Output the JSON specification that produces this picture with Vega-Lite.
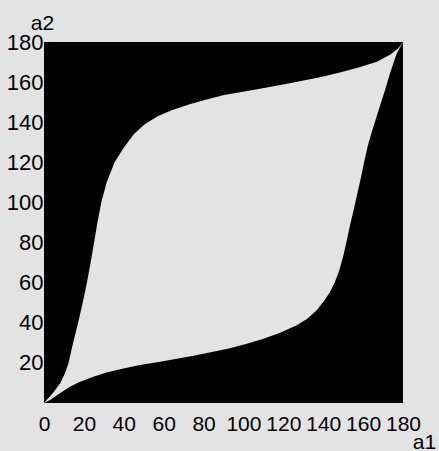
{
  "$schema": "https://vega.github.io/schema/vega-lite/v6.json",
  "autosize": "none",
  "width": 359,
  "height": 361,
  "padding": {"left": 44, "top": 42, "right": 36, "bottom": 48},
  "background": "#e3e3e3",
  "config": {
    "view": {"fill": "#e3e3e3", "stroke": null},
    "axis": {
      "labelFont": "Liberation Sans",
      "labelFontSize": 22,
      "labelColor": "#000000",
      "titleFont": "Liberation Sans",
      "titleFontSize": 21,
      "titleFontWeight": "normal",
      "titleColor": "#000000",
      "ticks": false,
      "domain": false,
      "grid": false,
      "labelOverlap": false
    }
  },
  "datasets": {
    "upper": [
      {"a1": 0, "a2": 0},
      {"a1": 4.5, "a2": 5},
      {"a1": 8.2, "a2": 10},
      {"a1": 10.6, "a2": 15},
      {"a1": 12.3, "a2": 20},
      {"a1": 14.6, "a2": 30},
      {"a1": 17.1, "a2": 40},
      {"a1": 19.4, "a2": 50},
      {"a1": 21.5, "a2": 60},
      {"a1": 23.4, "a2": 70},
      {"a1": 25.1, "a2": 80},
      {"a1": 26.8, "a2": 90},
      {"a1": 28.7, "a2": 100},
      {"a1": 31.4, "a2": 110},
      {"a1": 35.4, "a2": 120},
      {"a1": 39.8, "a2": 127},
      {"a1": 45.0, "a2": 134},
      {"a1": 50.5, "a2": 139},
      {"a1": 57.0, "a2": 143},
      {"a1": 64.0, "a2": 146},
      {"a1": 73.0, "a2": 149},
      {"a1": 82.0, "a2": 151.5},
      {"a1": 90.3, "a2": 153.6},
      {"a1": 104.8, "a2": 156.1},
      {"a1": 121.9, "a2": 159.2},
      {"a1": 138.4, "a2": 162.4},
      {"a1": 148.4, "a2": 164.8},
      {"a1": 158.5, "a2": 167.5},
      {"a1": 166.9, "a2": 170.2},
      {"a1": 173.5, "a2": 173.6},
      {"a1": 177.7, "a2": 176.9},
      {"a1": 180, "a2": 180}
    ],
    "lower": [
      {"a1": 0, "a2": 0},
      {"a1": 3.0, "a2": 1.5},
      {"a1": 8.0, "a2": 4.8},
      {"a1": 13.0, "a2": 8.1},
      {"a1": 18.1, "a2": 10.6},
      {"a1": 24.7, "a2": 13.1},
      {"a1": 31.4, "a2": 15.2},
      {"a1": 39.8, "a2": 17.2},
      {"a1": 48.1, "a2": 18.9},
      {"a1": 58.2, "a2": 20.6},
      {"a1": 75.0, "a2": 23.6},
      {"a1": 93.3, "a2": 27.3},
      {"a1": 101.7, "a2": 29.5},
      {"a1": 110.0, "a2": 32.0},
      {"a1": 118.4, "a2": 35.0},
      {"a1": 126.7, "a2": 38.8},
      {"a1": 132.0, "a2": 42.0},
      {"a1": 136.5, "a2": 46.0},
      {"a1": 140.1, "a2": 50.5},
      {"a1": 143.2, "a2": 55.0},
      {"a1": 145.7, "a2": 60.0},
      {"a1": 148.0, "a2": 66.0},
      {"a1": 150.0, "a2": 73.0},
      {"a1": 151.6, "a2": 80.0},
      {"a1": 153.3, "a2": 88.0},
      {"a1": 155.2, "a2": 96.0},
      {"a1": 157.0, "a2": 104.0},
      {"a1": 158.8, "a2": 112.0},
      {"a1": 160.5, "a2": 120.0},
      {"a1": 162.3, "a2": 128.0},
      {"a1": 164.3, "a2": 135.0},
      {"a1": 166.5, "a2": 142.0},
      {"a1": 168.7, "a2": 149.0},
      {"a1": 171.0, "a2": 156.1},
      {"a1": 173.5, "a2": 164.4},
      {"a1": 176.9, "a2": 174.4},
      {"a1": 180, "a2": 180}
    ]
  },
  "encoding": {
    "x": {
      "field": "a1", "type": "quantitative",
      "scale": {"domain": [0, 180], "nice": false},
      "axis": {
        "values": [0, 20, 40, 60, 80, 100, 120, 140, 160, 180],
        "labelOverlap": false,
        "labelBound": false,
        "labelFlush": false,
        "labelFontSize": 21,
        "labelPadding": 10,
        "title": "a1",
        "titleX": 380,
        "titleY": 45,
        "titleAlign": "center",
        "titleBaseline": "alphabetic"
      }
    },
    "y": {
      "field": "a2", "type": "quantitative",
      "scale": {"domain": [0, 180], "nice": false},
      "axis": {
        "values": [20, 40, 60, 80, 100, 120, 140, 160, 180],
        "labelOverlap": false,
        "labelPadding": 1,
        "labelBaseline": "middle",
        "title": "a2",
        "titleAngle": 0,
        "titleX": -2,
        "titleY": -13,
        "titleAlign": "center",
        "titleBaseline": "alphabetic"
      }
    }
  },
  "layer": [
    {
      "data": {"name": "upper"},
      "mark": {"type": "area", "color": "#000000", "clip": true},
      "encoding": {"y2": {"datum": 180}}
    },
    {
      "data": {"name": "lower"},
      "mark": {"type": "area", "color": "#000000", "clip": true},
      "encoding": {"y2": {"datum": 0}}
    }
  ]
}
